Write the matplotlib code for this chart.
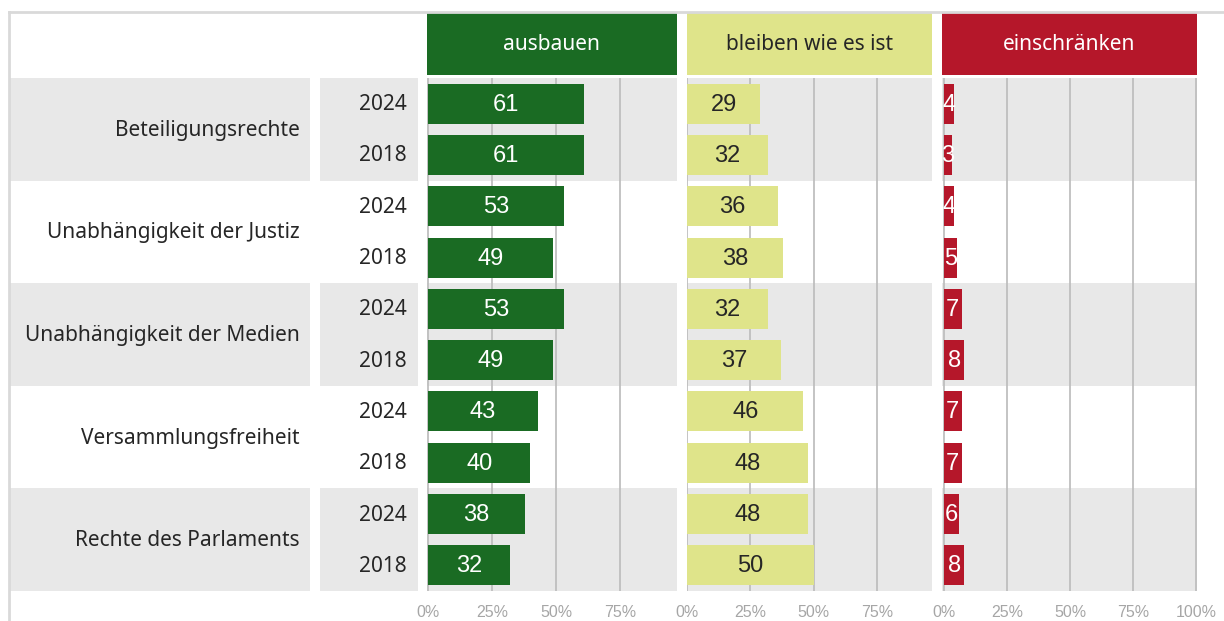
import matplotlib
matplotlib.use("Agg")
import matplotlib.pyplot as plt
from matplotlib.patches import Rectangle
from matplotlib.lines import Line2D

# ---------------- data ----------------
categories = ["Beteiligungsrechte", "Unabhängigkeit der Justiz",
              "Unabhängigkeit der Medien", "Versammlungsfreiheit",
              "Rechte des Parlaments"]
years = ["2024", "2018"]
series_names = ["ausbauen", "bleiben wie es ist", "einschränken"]
ausbauen = [61, 61, 53, 49, 53, 49, 43, 40, 38, 32]
bleiben = [29, 32, 36, 38, 32, 37, 46, 48, 48, 50]
einschraenken = [4, 3, 4, 5, 7, 8, 7, 7, 6, 8]
tick_values = [0, 25, 50, 75, 100]
tick_labels = ["0%", "25%", "50%", "75%", "100%"]

# ---------------- style ----------------
GREEN = "#1a6b23"
YELLOW = "#dfe48a"
RED = "#b5172a"
BAND = "#e8e8e8"
GRID = "#bfbfbf"
TEXT = "#262626"
FRAME = "#d9d9d9"
LABEL_FONT = ["Noto Sans", "DejaVu Sans"]
NUM_FONT = ["Liberation Sans", "DejaVu Sans"]

W, H = 1224, 621
fig = plt.figure(figsize=(W / 100, H / 100), dpi=100)


def rect(x0, y0, x1, y1):
    return [x0 / W, 1 - y1 / H, (x1 - x0) / W, (y1 - y0) / H]


TOP, BOT = 78, 591
n_rows = len(ausbauen)
rows = list(range(n_rows))

# frame lines
fig.add_artist(Line2D([9 / W, 1], [1 - 12 / H, 1 - 12 / H], color=FRAME, lw=2,
                      transform=fig.transFigure))
fig.add_artist(Line2D([9 / W, 9 / W], [0, 1 - 12 / H], color=FRAME, lw=2,
                      transform=fig.transFigure))


def add_bands(ax):
    for g in range(0, len(categories), 2):
        ax.axhspan(2 * g - 0.5, 2 * g + 1.5, color=BAND, zorder=0.2, lw=0)


# label column
ax_lab = fig.add_axes(rect(10, TOP, 310, BOT))
ax_lab.set_ylim(n_rows - 0.5, -0.5)
ax_lab.set_xlim(0, 1)
add_bands(ax_lab)
ax_lab.axis("off")
for g, cat in enumerate(categories):
    ax_lab.text(0.967, 2 * g + 0.52, cat, ha="right", va="center",
                fontsize=15, color=TEXT, family=LABEL_FONT)

# year column
ax_year = fig.add_axes(rect(320, TOP, 418, BOT))
ax_year.set_ylim(n_rows - 0.5, -0.5)
ax_year.set_xlim(0, 1)
add_bands(ax_year)
ax_year.axis("off")
for r in rows:
    ax_year.text(0.888, r + 0.02, years[r % 2], ha="right", va="center",
                 fontsize=15, color=TEXT, family=LABEL_FONT)

# panels
panels = [
    (ausbauen, GREEN, "white", (427, 677), (-0.4, 97.3), 4),
    (bleiben, YELLOW, TEXT, (687, 932), (0, 96.8), 4),
    (einschraenken, RED, "white", (942, 1197), (-0.8, 100.4), 5),
]
for (vals, col, tcol, (x0, x1), xl, nt), name in zip(panels, series_names):
    ax = fig.add_axes(rect(x0, TOP, x1, BOT))
    ax.set_ylim(n_rows - 0.5, -0.5)
    ax.set_xlim(*xl)
    add_bands(ax)
    ax.barh(rows, vals, height=0.78, color=col, zorder=2)
    for r, v in zip(rows, vals):
        ax.text(v / 2, r + 0.02, str(v), ha="center", va="center", fontsize=17,
                color=tcol, family=NUM_FONT, zorder=3)
    ax.set_xticks(tick_values[:nt])
    ax.set_xticklabels(tick_labels[:nt], color="#a6a6a6", fontsize=11.5,
                       family=NUM_FONT)
    ax.tick_params(axis="x", length=0, pad=10)
    ax.set_yticks([])
    ax.grid(axis="x", color=GRID, lw=1.3, zorder=0.5)
    ax.set_axisbelow(True)
    for s in ax.spines.values():
        s.set_visible(False)
    # header
    fig.add_artist(Rectangle((x0 / W, 1 - 74.5 / H), (x1 - x0) / W, 61.5 / H,
                             transform=fig.transFigure, color=col, lw=0))
    fig.text((x0 + x1) / 2 / W, 1 - 45 / H, name, ha="center", va="center",
             fontsize=15, color=tcol, family=LABEL_FONT)

fig.savefig("out.png", dpi=100)
